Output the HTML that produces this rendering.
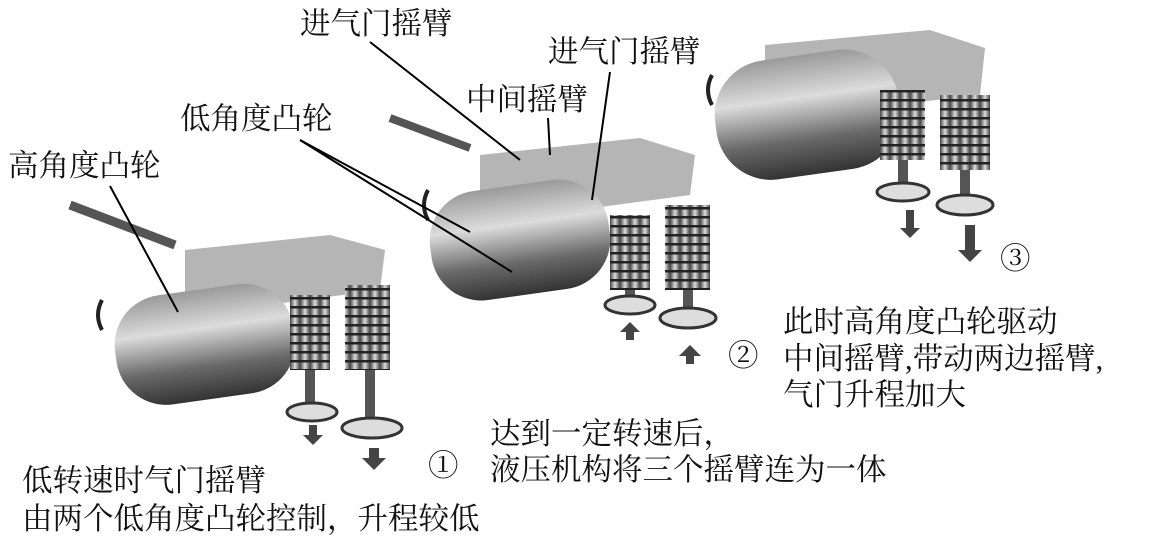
<!DOCTYPE html>
<html><head><meta charset="utf-8"><style>
html,body{margin:0;padding:0;background:#fff;}
body{width:1164px;height:549px;position:relative;overflow:hidden;font-family:"Liberation Serif","Noto Serif CJK SC",serif;}
.t{position:absolute;font-size:30.5px;line-height:32px;color:#111;white-space:nowrap;}
svg{position:absolute;left:0;top:0;}
</style></head><body>
<svg width="1164" height="549" viewBox="0 0 1164 549">
<defs>
<linearGradient id="cyl" x1="0" y1="0" x2="0" y2="1">
<stop offset="0" stop-color="#9a9a9a"/><stop offset="0.35" stop-color="#dcdcdc"/><stop offset="0.7" stop-color="#6a6a6a"/><stop offset="1" stop-color="#333"/></linearGradient>
<linearGradient id="spr" x1="0" y1="0" x2="1" y2="0">
<stop offset="0" stop-color="#444"/><stop offset="0.5" stop-color="#ddd"/><stop offset="1" stop-color="#444"/></linearGradient>
<pattern id="coil" width="10" height="9" patternUnits="userSpaceOnUse"><rect width="10" height="9" fill="url(#spr)"/><rect y="0" width="10" height="2.5" fill="#222"/></pattern>
</defs>
<!-- mechanism 1 -->
<line x1="70" y1="205" x2="175" y2="245" stroke="#555" stroke-width="9"/>
<path d="M185 250 L330 235 L385 250 L380 290 L230 310 L185 295Z" fill="#b5b5b5"/>
<rect x="115" y="290" width="180" height="110" rx="50" fill="url(#cyl)" transform="rotate(-8 200 345)"/>
<rect x="290" y="295" width="40" height="75" fill="url(#coil)"/>
<rect x="345" y="285" width="45" height="85" fill="url(#coil)"/>
<rect x="305" y="370" width="10" height="40" fill="#555"/><rect x="365" y="370" width="10" height="50" fill="#555"/>
<ellipse cx="312" cy="412" rx="25" ry="9" fill="#ddd" stroke="#333" stroke-width="3"/>
<ellipse cx="372" cy="428" rx="30" ry="10" fill="#ddd" stroke="#333" stroke-width="3"/>
<path d="M309 425h8v10h6l-10 10-10-10h6z" fill="#444"/>
<path d="M369 448h10v10h7l-12 12-12-12h7z" fill="#444"/>
<path d="M102 300 q-8 15 0 30" stroke="#222" stroke-width="4" fill="none"/>
<!-- mechanism 2 -->
<line x1="390" y1="118" x2="470" y2="148" stroke="#555" stroke-width="8"/>
<path d="M480 155 L640 138 L695 155 L690 195 L540 215 L480 200Z" fill="#b5b5b5"/>
<rect x="430" y="185" width="180" height="110" rx="50" fill="url(#cyl)" transform="rotate(-8 520 240)"/>
<rect x="610" y="215" width="40" height="75" fill="url(#coil)"/>
<rect x="665" y="205" width="45" height="85" fill="url(#coil)"/>
<rect x="625" y="290" width="10" height="12" fill="#555"/><rect x="683" y="290" width="10" height="20" fill="#555"/>
<ellipse cx="630" cy="305" rx="25" ry="9" fill="#ddd" stroke="#333" stroke-width="3"/>
<ellipse cx="688" cy="318" rx="28" ry="10" fill="#ddd" stroke="#333" stroke-width="3"/>
<path d="M630 322 l-10 10h6v8h8v-8h6z" fill="#444"/>
<path d="M690 345 l-11 11h7v8h8v-8h7z" fill="#444"/>
<path d="M428 190 q-8 15 0 30" stroke="#222" stroke-width="4" fill="none"/>
<!-- mechanism 3 -->
<path d="M765 45 L930 30 L985 48 L980 95 L830 112 L765 98Z" fill="#b5b5b5"/>
<rect x="715" y="55" width="185" height="120" rx="55" fill="url(#cyl)" transform="rotate(-8 805 115)"/>
<rect x="880" y="90" width="45" height="70" fill="url(#coil)"/>
<rect x="940" y="95" width="50" height="75" fill="url(#coil)"/>
<rect x="898" y="160" width="10" height="30" fill="#555"/><rect x="960" y="170" width="10" height="25" fill="#555"/>
<ellipse cx="903" cy="192" rx="26" ry="9" fill="#ddd" stroke="#333" stroke-width="3"/>
<ellipse cx="965" cy="205" rx="28" ry="10" fill="#ddd" stroke="#333" stroke-width="3"/>
<path d="M906 210h8v18h6l-10 10-10-10h6z" fill="#444"/>
<path d="M965 225h10v25h7l-12 12-12-12h7z" fill="#444"/>
<path d="M712 75 q-8 15 0 30" stroke="#222" stroke-width="4" fill="none"/>
<g stroke="#000" stroke-width="2" fill="none">
<line x1="370" y1="42" x2="520" y2="160"/>
<line x1="610" y1="72" x2="592" y2="200"/>
<line x1="548" y1="118" x2="550" y2="155"/>
<line x1="300" y1="140" x2="470" y2="232"/>
<line x1="300" y1="140" x2="512" y2="272"/>
<line x1="110" y1="186" x2="178" y2="312"/>
</g>
</svg>
<div class="t" style="left:300px;top:8px">进气门摇臂</div>
<div class="t" style="left:548px;top:36px">进气门摇臂</div>
<div class="t" style="left:466px;top:84px">中间摇臂</div>
<div class="t" style="left:180px;top:103px">低角度凸轮</div>
<div class="t" style="left:8px;top:150px">高角度凸轮</div>
<div class="t" style="left:1000px;top:243px">③</div>
<div class="t" style="left:783px;top:306px">此时高角度凸轮驱动</div>
<div class="t" style="left:783px;top:343px">中间摇臂,带动两边摇臂,</div>
<div class="t" style="left:783px;top:379px">气门升程加大</div>
<div class="t" style="left:728px;top:340px">②</div>
<div class="t" style="left:490px;top:418px">达到一定转速后，</div>
<div class="t" style="left:490px;top:454px">液压机构将三个摇臂连为一体</div>
<div class="t" style="left:428px;top:450px">①</div>
<div class="t" style="left:22px;top:465px">低转速时气门摇臂</div>
<div class="t" style="left:22px;top:503px">由两个低角度凸轮控制，升程较低</div>
</body></html>
